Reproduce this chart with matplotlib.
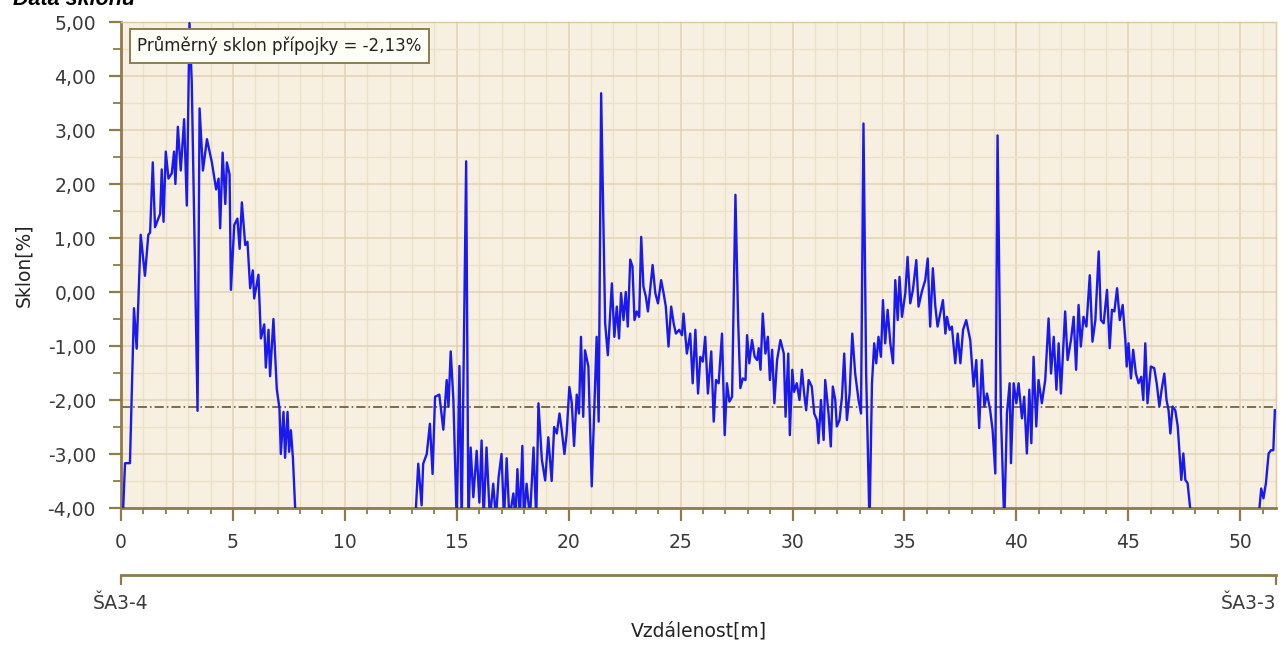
#!/usr/bin/env python3
"""slope profile of the connection pipe (Data sklonu)"""
import matplotlib
matplotlib.use('Agg')
import matplotlib.pyplot as plt
from matplotlib.ticker import MultipleLocator, FuncFormatter

# distance [m] and slope [%]
distance = [
	0.02, 0.18, 0.40, 0.58, 0.70, 0.88, 1.07, 1.22, 1.30, 1.42, 1.52, 1.75, 1.82, 1.90, 2.00,
	2.12, 2.27, 2.37, 2.43, 2.54, 2.67, 2.82, 2.94, 3.06, 3.16, 3.42, 3.51, 3.66, 3.84, 4.06,
	4.25, 4.36, 4.43, 4.54, 4.66, 4.73, 4.85, 4.91, 5.06, 5.20, 5.30, 5.40, 5.55, 5.65, 5.77,
	5.89, 5.95, 6.14, 6.25, 6.40, 6.47, 6.59, 6.66, 6.81, 6.96, 7.08, 7.14, 7.26, 7.33, 7.44,
	7.51, 7.59, 7.68, 7.78, 7.90, 10.50,
	13.10, 13.28, 13.43, 13.50, 13.66, 13.80, 13.92, 14.03, 14.22, 14.40, 14.55, 14.63, 14.73,
	14.85, 15.00, 15.12, 15.22, 15.42, 15.52, 15.62, 15.74, 15.89, 16.01, 16.11, 16.20, 16.33,
	16.48, 16.63, 16.75, 16.87, 17.00, 17.11, 17.23, 17.35, 17.53, 17.62, 17.71, 17.82, 17.93,
	18.00, 18.12, 18.27, 18.43, 18.55, 18.65, 18.80, 18.95, 19.09, 19.24, 19.35, 19.47, 19.59,
	19.69, 19.81, 19.91, 20.03, 20.14, 20.24, 20.36, 20.46, 20.55, 20.65, 20.73, 20.88, 21.03,
	21.25, 21.34, 21.45,
	21.63, 21.75, 21.93, 22.04, 22.15, 22.25, 22.34, 22.45, 22.55, 22.64, 22.75, 22.85, 22.94,
	23.04, 23.15, 23.24, 23.34, 23.45, 23.54, 23.64, 23.75, 23.87, 23.99, 24.13, 24.24, 24.34,
	24.46, 24.58, 24.69, 24.79, 24.94, 25.06, 25.13, 25.28, 25.43, 25.54, 25.66, 25.78, 25.88,
	25.99, 26.10, 26.22, 26.37, 26.48, 26.58, 26.70, 26.85, 26.97, 27.07, 27.18, 27.30, 27.45,
	27.57, 27.67, 27.78, 27.90, 27.97, 28.07, 28.19, 28.31, 28.42, 28.49, 28.57, 28.67, 28.79,
	28.90, 28.99, 29.09, 29.19, 29.31, 29.46, 29.61, 29.69, 29.81, 29.88, 29.99,
	30.07, 30.19, 30.31, 30.42, 30.52, 30.61, 30.72, 30.86, 30.97, 31.09, 31.16, 31.27, 31.39,
	31.46, 31.61, 31.71, 31.80, 31.91, 31.98, 32.10, 32.21, 32.31, 32.43, 32.55, 32.67, 32.80,
	32.95, 33.06, 33.17, 33.29, 33.44, 33.55, 33.65, 33.74, 33.84, 33.95, 34.04, 34.14, 34.25,
	34.37, 34.49, 34.59, 34.70, 34.78, 34.89, 35.04, 35.14, 35.26, 35.38, 35.53, 35.63, 35.78,
	35.93, 36.04, 36.15, 36.27, 36.38, 36.48, 36.60, 36.72, 36.83, 36.90, 37.02, 37.12, 37.27,
	37.38, 37.50, 37.62, 37.76, 37.94,
	38.09, 38.21, 38.34, 38.46, 38.57, 38.69, 38.83, 38.94, 39.06, 39.16, 39.31, 39.46, 39.58,
	39.70, 39.76, 39.88, 40.00, 40.10, 40.25, 40.35, 40.47, 40.58, 40.67, 40.77, 40.89, 40.99,
	41.14, 41.29, 41.44, 41.55, 41.67, 41.79, 41.89, 41.99, 42.18, 42.29, 42.44, 42.56, 42.67,
	42.78, 42.88, 43.00, 43.13, 43.28, 43.40, 43.53, 43.68, 43.78, 43.90, 44.05, 44.17, 44.27,
	44.38, 44.50, 44.62, 44.75,
	44.87, 44.93, 45.01, 45.12, 45.22, 45.34, 45.46, 45.58, 45.67, 45.76, 45.86, 46.01, 46.16,
	46.27, 46.39, 46.49, 46.61, 46.71, 46.80, 46.88, 46.98, 47.10, 47.21, 47.28, 47.37, 47.46,
	47.55, 47.65, 47.76, 47.88, 49.50,
	50.75, 50.94, 51.04, 51.15, 51.27, 51.38, 51.48, 51.55,
]
slope = [
	-4.80, -3.17, -3.17, -0.30, -1.05, 1.06, 0.30, 1.06, 1.10, 2.40, 1.20, 1.45, 2.27, 1.30, 2.60,
	2.10, 2.20, 2.60, 2.00, 3.06, 2.25, 3.20, 1.60, 4.98, 3.90, -2.20, 3.40, 2.25, 2.83, 2.40,
	1.90, 2.10, 1.18, 2.58, 1.63, 2.40, 2.18, 0.04, 1.24, 1.36, 0.80, 1.66, 0.87, 0.93, 0.07,
	0.40, -0.12, 0.32, -0.86, -0.60, -1.40, -0.70, -1.56, -0.50, -1.80, -2.16, -3.00, -2.22, -3.07, -2.22,
	-2.96, -2.56, -3.07, -4.00, -4.60, -6.00,
	-4.60, -3.18, -3.95, -3.18, -3.00, -2.44, -3.37, -1.94, -1.90, -2.55, -1.63, -2.12, -1.10,
	-2.00, -4.30, -1.37, -4.30, 2.42, -4.30, -2.88, -3.80, -2.94, -3.90, -2.75, -4.20, -2.88,
	-4.20, -3.55, -4.20, -3.43, -3.00, -4.20, -3.08, -4.20, -3.73, -4.20, -3.28, -4.20, -2.85,
	-4.20, -3.55, -4.20, -2.88, -4.20, -2.06, -3.10, -3.49, -2.69, -3.50, -2.50, -2.62, -2.25,
	-2.56, -3.00, -2.62, -1.76, -2.06, -2.85, -1.90, -2.25, -0.83, -2.31, -1.08, -1.38, -3.60,
	-0.83, -2.40, 3.68,
	-0.58, -1.17, 0.16, -0.83, -0.27, -0.86, -0.02, -0.52, 0.00, -0.64, 0.60, 0.47, -0.52,
	-0.36, -0.46, 1.02, 0.10, -0.09, -0.36, 0.04, 0.50, -0.02, -0.21, 0.22, -0.02, -0.27,
	-1.01, -0.27, -0.58, -0.77, -0.70, -0.80, -0.40, -1.14, -0.77, -1.69, -0.70, -1.88, -1.20,
	-1.29, -0.83, -1.88, -1.10, -2.40, -1.63, -1.69, -0.77, -2.65, -1.69, -2.03, -1.94, 1.80,
	-0.52, -1.78, -1.60, -1.63, -0.80, -1.32, -0.89, -1.20, -1.26, -1.04, -1.44, -0.40, -1.14,
	-0.83, -1.63, -1.07, -2.06, -1.26, -0.89, -1.14, -2.31, -1.14, -2.65, -1.44,
	-1.85, -1.69, -2.00, -1.44, -1.88, -2.19, -1.63, -1.75, -2.25, -2.37, -2.80, -2.00, -2.74,
	-1.63, -2.25, -2.86, -1.75, -2.00, -2.49, -2.37, -1.94, -1.14, -2.37, -1.88, -0.77, -1.51,
	-2.00, -2.25, 3.12, -1.51, -4.30, -1.69, -0.95, -1.32, -0.83, -1.20, -0.15, -0.95, -0.33,
	-0.95, -1.32, 0.22, -0.52, 0.28, -0.46, -0.02, 0.65, -0.21, 0.04, 0.59, -0.27, 0.01,
	0.22, 0.62, -0.64, 0.44, -0.27, -0.64, -0.40, -0.15, -0.77, -0.46, -0.70, -0.64, -1.32,
	-0.77, -1.32, -0.70, -0.52, -0.89,
	-1.75, -1.26, -2.52, -1.26, -2.12, -1.88, -2.19, -2.56, -3.36, 2.90, -2.25, -4.30, -2.25,
	-1.69, -3.17, -1.69, -2.06, -1.69, -2.34, -1.94, -2.99, -1.81, -2.80, -1.20, -2.49, -1.63,
	-2.06, -1.63, -0.49, -1.51, -0.83, -1.81, -0.95, -1.88, -0.36, -1.26, -0.89, -0.46, -1.44,
	-0.24, -1.01, -0.46, -0.64, 0.31, -0.92, -0.52, 0.75, -0.52, -0.58, 0.04, -1.04, -0.33,
	-0.36, 0.07, -0.52, -0.24,
	-0.89, -1.38, -0.95, -1.60, -1.07, -1.51, -1.69, -1.57, -2.00, -0.95, -2.06, -1.38, -1.41,
	-1.69, -2.12, -1.81, -1.51, -2.00, -2.19, -2.62, -2.12, -2.19, -2.49, -2.93, -3.48, -2.99,
	-3.48, -3.54, -3.98, -4.50, -6.00,
	-4.50, -3.64, -3.82, -3.54, -2.99, -2.93, -2.93, -2.19,
]

mean_slope = -2.13
x_end = 51.6
end_labels = ['ŠA3-4', 'ŠA3-3']

axis_brown = '#8f7b4b'
tick_grey = '#3a3a3a'

plt.rcParams['font.family'] = ['DejaVu Sans']

fig = plt.figure(figsize=(12.84, 6.5), dpi=100)
ax = fig.add_axes([121/1284, 1 - 508/650, 1155/1284, 486/650])
ax.set_facecolor('#f7efe0')

ax.plot(distance, slope, color='#1a1aee', lw=1.7, zorder=3)
ax.axhline(mean_slope, color='#5e4b1c', lw=1.1, ls=(0, (6, 2, 1, 2)), zorder=2)

ax.set_xlim(0, x_end)
ax.set_ylim(-4, 5)
ax.xaxis.set_major_locator(MultipleLocator(5))
ax.xaxis.set_minor_locator(MultipleLocator(1))
ax.yaxis.set_major_locator(MultipleLocator(1))
ax.yaxis.set_minor_locator(MultipleLocator(0.5))
ax.yaxis.set_major_formatter(FuncFormatter(lambda v, p: f'{v:.2f}'.replace('.', ',')))

ax.grid(True, which='major', color='#e2d3b2', lw=1.1, zorder=0)
ax.grid(True, which='minor', color='#ece1c8', lw=0.9, zorder=0)
ax.set_axisbelow(True)

for side in ['left', 'bottom']:
	ax.spines[side].set_color(axis_brown)
	ax.spines[side].set_linewidth(2)
for side in ['top', 'right']:
	ax.spines[side].set_color('#d9c9a3')
	ax.spines[side].set_linewidth(1)

ax.tick_params(which='major', direction='out', length=9, width=1.6, color=axis_brown,
	labelsize=13.5, labelcolor=tick_grey, pad=9)
ax.tick_params(which='minor', direction='out', length=4, width=1.3, color=axis_brown)
ax.tick_params(axis='y', which='minor', length=6)
ax.set_ylabel('Sklon[%]', fontsize=13.5, color='#222222', labelpad=10)

ax.text(0.0139, 0.971, 'Průměrný sklon přípojky = -2,13%', transform=ax.transAxes,
	ha='left', va='top', fontsize=12, color='#222222', zorder=5,
	bbox=dict(boxstyle='square,pad=0.45', fc='#fffef6', ec='#8c7d52', lw=1.4))

# second axis with manhole names
sec = ax.secondary_xaxis(-0.138)
sec.set_xticks([0, x_end], labels=end_labels)
sec.spines['bottom'].set_color(axis_brown)
sec.spines['bottom'].set_linewidth(2)
sec.tick_params(direction='out', length=7.5, width=1.6, color=axis_brown,
	labelsize=13.5, labelcolor=tick_grey, pad=6)
sec.xaxis.get_majorticklabels()[-1].set_horizontalalignment('right')
sec.set_xlabel('Vzdálenost[m]', fontsize=13.5, color='#222222', labelpad=6)

fig.text(13/1284, 1 - 5/650, 'Data sklonu', ha='left', va='baseline',
	fontsize=15.5, fontweight='bold', fontstyle='italic', family='Liberation Sans')

fig.savefig('out.png', dpi=100)
